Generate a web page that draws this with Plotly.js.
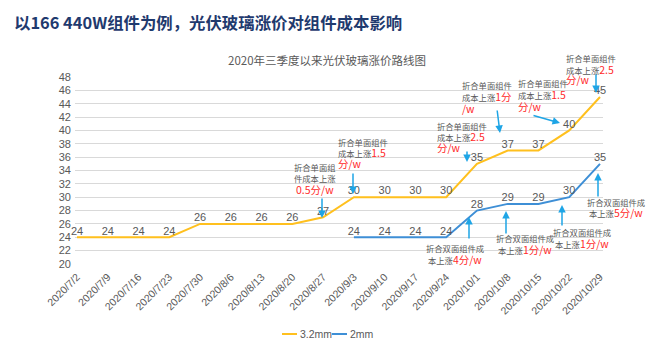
<!DOCTYPE html>
<html><head><meta charset="utf-8">
<script src="https://cdn.plot.ly/plotly-3.0.1.min.js"></script>
<style>body{margin:0;background:#fff}#c{width:654px;height:361px}</style>
</head><body><div id="c"></div>
<script>
const dates = ["2020/7/2","2020/7/9","2020/7/16","2020/7/23","2020/7/30","2020/8/6","2020/8/13","2020/8/20","2020/8/27","2020/9/3","2020/9/10","2020/9/17","2020/9/24","2020/10/1","2020/10/8","2020/10/15","2020/10/22","2020/10/29"];
const glass32 = [24,24,24,24,26,26,26,26,27,30,30,30,30,35,37,37,40,45];
const dates2mm = ["2020/9/3","2020/9/10","2020/9/17","2020/9/24","2020/10/1","2020/10/8","2020/10/15","2020/10/22","2020/10/29"];
const glass2 = [24,24,24,24,28,29,29,30,35];
const seriesNames = ["3.2mm","2mm"];
const seriesColors = ["#FFC01E","#3E8FD6"];
const mainTitle = "以166 440W组件为例，光伏玻璃涨价对组件成本影响";
const chartTitle = "2020年三季度以来光伏玻璃涨价路线图";

// plot geometry (pixels)
const L=75, R=603, T=77, B=264, X0=77, X1=600;
const pxPerCat=(X1-X0)/(dates.length-1);
const yMin=20, yMax=48, pxPerY=(B-T)/(yMax-yMin);
const dx = p => (p-X0)/pxPerCat;
const dy = p => yMin + (B-p)/pxPerY;
const px = p => (p-L)/(R-L);
const py = p => (B-p)/(B-T);
const xi = d => dates.indexOf(d);

const gray='#595959', red='#FF2A2A', arrowC='#1EA5E6';
const rs = s => "<span style='font-size:10.5px;color:"+red+"'>"+s+"</span>";
const notes = [
  {l:["折合单面组","件成本上涨",rs("0.5分/w")], x:315, y:167, sp:11, c:true, a:[322,197,322,218]},
  {l:["折合单面组件","成本上涨"+rs("1.5"),rs("分/w")], x:337, y:142, sp:10.5, a:[353,172,353,194]},
  {l:["折合单面组件","成本上涨"+rs("2.5"),rs("分/w")], x:436, y:126, sp:10.5, a:[467,150,467,162]},
  {l:["折合单面组件","成本上涨"+rs("1分"),rs("/w")], x:461, y:85, sp:11.5, a:[497,109,500,133]},
  {l:["折合单面组件","成本上涨"+rs("1.5"),rs("分/w")], x:517, y:83, sp:11.5, a:[532,115,560,123]},
  {l:["折合单面组件","成本上涨"+rs("2.5"),rs("分/w")], x:565, y:58, sp:11, a:[596,73,596,93]},
  {l:["折合双面组件成","本上涨"+rs("4分/w")], x:455, y:248, sp:11, c:true, a:[469,240,469,217]},
  {l:["折合双面组件成","本上涨"+rs("1分/w")], x:525, y:238, sp:11, c:true, a:[506,235,506,211]},
  {l:["折合双面组件成","本上涨"+rs("1分/w")], x:582, y:232, sp:11, c:true, a:[562,227,562,205]},
  {l:["折合双面组件成","本上涨"+rs("5分/w")], x:616, y:202, sp:10.5, c:true, a:[598,198,598,173]}
];
const ann=[];
notes.forEach(n=>{
  n.l.forEach((line,i)=>{
    ann.push({xref:'paper',yref:'paper',x:px(n.x),y:py(n.y+i*n.sp),xanchor:n.c?'center':'left',yanchor:'middle',
      text:line,showarrow:false,borderpad:0,font:{family:'Noto Sans CJK SC',size:8.3,color:gray}});
  });
  ann.push({xref:'x',yref:'y',axref:'x',ayref:'y',x:dx(n.a[2]),y:dy(n.a[3]),ax:dx(n.a[0]),ay:dy(n.a[1]),
    text:'',showarrow:true,arrowhead:2,arrowsize:1,arrowwidth:1.5,arrowcolor:arrowC,standoff:0});
});
ann.push({xref:'paper',yref:'paper',x:px(12),y:py(22),xanchor:'left',yanchor:'middle',showarrow:false,
  text:'<b>'+mainTitle+'</b>',font:{family:'Noto Sans CJK SC',size:16.4,color:'#1F3A6E'}});
ann.push({xref:'paper',yref:'paper',x:px(327),y:py(60),xanchor:'center',yanchor:'middle',showarrow:false,
  text:chartTitle,font:{family:'Noto Sans CJK SC',size:11.5,color:gray}});

// custom compact legend
const legShapes=[], legX=[282,332];
seriesNames.forEach((nm,i)=>{
  legShapes.push({type:'line',xref:'paper',yref:'paper',x0:px(legX[i]),x1:px(legX[i]+15),y0:py(334),y1:py(334),
    line:{color:seriesColors[i],width:2}});
  ann.push({xref:'paper',yref:'paper',x:px(legX[i]+16),y:py(334),xanchor:'left',yanchor:'middle',showarrow:false,
    text:nm,font:{family:'Liberation Sans',size:10.5,color:gray}});
});

const traces=[
  {x:dates.map(xi),y:glass32,name:seriesNames[0],mode:'lines+text',text:glass32.map(String),textposition:'top center',
   textfont:{family:'Liberation Sans',size:11,color:gray},line:{color:seriesColors[0],width:2},cliponaxis:false},
  {x:dates2mm.map(xi),y:glass2,name:seriesNames[1],mode:'lines+text',text:glass2.map(String),textposition:'top center',
   textfont:{family:'Liberation Sans',size:11,color:gray},line:{color:seriesColors[1],width:2},cliponaxis:false}
];
const layout={
  width:654,height:361,margin:{l:L,r:654-R,t:T,b:361-B,autoexpand:false},
  paper_bgcolor:'#fff',plot_bgcolor:'#fff',showlegend:false,
  font:{family:'Liberation Sans',color:gray},
  xaxis:{range:[dx(L),dx(R)],tickmode:'array',tickvals:dates.map(xi),ticktext:dates,tickangle:-45,
    tickfont:{size:10.5,color:gray},showgrid:false,zeroline:false,showline:false,ticks:'',automargin:false,ticklabelstandoff:4},
  yaxis:{range:[yMin,yMax],dtick:2,tick0:20,tickfont:{size:11,color:gray},gridcolor:'#D9D9D9',gridwidth:1,
    zeroline:false,showline:false,ticks:'',ticklabelstandoff:3,automargin:false},
  shapes:legShapes,
  annotations:ann
};
Plotly.newPlot('c',traces,layout,{displayModeBar:false,staticPlot:true});
</script></body></html>
